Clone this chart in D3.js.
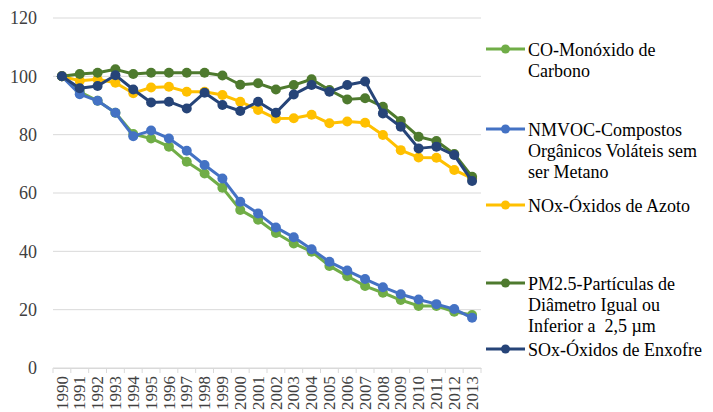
<!DOCTYPE html>
<html>
<head>
<meta charset="utf-8">
<script src="https://cdn.jsdelivr.net/npm/d3@7"></script>
<style>
  body { margin: 0; background: #fff; }
  svg { display: block; }
  svg text { font-family: "Liberation Serif", "Times New Roman", "DejaVu Serif", serif; white-space: pre; }
</style>
</head>
<body>
<div id="chart"></div>
<script>
// chart data
var years = ["1990","1991","1992","1993","1994","1995","1996","1997","1998","1999","2000","2001",
             "2002","2003","2004","2005","2006","2007","2008","2009","2010","2011","2012","2013"];
var yTicks = [0, 20, 40, 60, 80, 100, 120];

var co    = [100, 94.7, 91.6, 87.5, 80.2, 78.7, 75.9, 70.7, 66.7, 61.8, 54.2, 50.8,
             46.3, 42.7, 39.9, 35.0, 31.5, 28.1, 25.8, 23.3, 21.3, 21.3, 19.3, 18.2];
var nmvoc = [100, 93.9, 91.6, 87.5, 79.5, 81.4, 78.7, 74.5, 69.6, 65.0, 57.0, 53.0,
             48.2, 44.8, 40.7, 36.4, 33.4, 30.5, 27.7, 25.3, 23.5, 21.9, 20.2, 17.2];
var nox   = [100, 98.5, 99.0, 97.8, 94.2, 96.2, 96.4, 94.7, 94.7, 93.6, 91.3, 88.5,
             85.5, 85.6, 86.8, 83.9, 84.5, 84.1, 79.9, 74.7, 72.2, 72.1, 67.9, 65.0];
var pm25  = [100, 100.8, 101.2, 102.4, 100.8, 101.2, 101.2, 101.2, 101.2, 100.3, 97.1, 97.6,
             95.5, 97.0, 99.0, 95.3, 92.1, 92.5, 89.6, 84.7, 79.3, 77.8, 73.4, 65.6];
var sox   = [100, 95.9, 96.7, 100.4, 95.5, 91.0, 91.3, 89.0, 94.4, 90.2, 88.1, 91.3,
             87.5, 93.8, 97.0, 94.7, 97.0, 98.2, 87.3, 82.7, 75.3, 75.9, 73.0, 64.1];

var seriesNames = [
  ["CO-Monóxido de", "Carbono"],
  ["NMVOC-Compostos", "Orgânicos Voláteis sem", "ser Metano"],
  ["NOx-Óxidos de Azoto"],
  ["PM2.5-Partículas de", "Diâmetro Igual ou", "Inferior a  2,5 µm"],
  ["SOx-Óxidos de Enxofre"]
];
var seriesValues = [co, nmvoc, nox, pm25, sox];
var seriesColors = ["#70AD47", "#4472C4", "#FFC000", "#4E7A2E", "#264478"];

// svg area
var svgWidth = 713;
var svgHeight = 412;

var margin = { top: 18, right: 232, bottom: 44, left: 53 };
var width = svgWidth - margin.left - margin.right;
var height = svgHeight - margin.top - margin.bottom;

var svg = d3.select("#chart")
    .append("svg")
    .attr("width", svgWidth)
    .attr("height", svgHeight);

var chartGroup = svg.append("g").attr("transform", `translate(${margin.left}, ${margin.top})`);

// scales
var xBand = d3.scaleBand().domain(years).range([0, width]);
var yLinearScale = d3.scaleLinear().domain([0, 120]).range([height, 0]);

// gridlines
chartGroup.selectAll(".grid")
    .data(yTicks)
    .enter()
    .append("line")
    .attr("x1", 0)
    .attr("x2", width)
    .attr("y1", d => yLinearScale(d))
    .attr("y2", d => yLinearScale(d))
    .attr("stroke", "#d9d9d9")
    .attr("stroke-width", 1);

// y axis labels
var leftAxis = d3.axisLeft(yLinearScale).tickValues(yTicks).tickSize(0).tickPadding(16);
var yAxisG = chartGroup.append("g").call(leftAxis).attr("font-family", null);
yAxisG.select(".domain").remove();
yAxisG.selectAll("text")
    .attr("font-size", 18)
    .attr("fill", "#404040");

// x axis with category tick marks at boundaries
var bottomAxis = d3.axisBottom(xBand).tickSize(0).tickPadding(0);
var xAxisG = chartGroup.append("g")
    .attr("transform", `translate(0, ${height})`)
    .call(bottomAxis)
    .attr("font-family", null);
xAxisG.select(".domain").attr("stroke", "#d9d9d9");
xAxisG.selectAll("text")
    .attr("font-size", 17)
    .attr("fill", "#404040")
    .attr("text-anchor", "end")
    .attr("transform", "rotate(-90)")
    .attr("x", -8)
    .attr("y", 0)
    .attr("dy", "0.33em");

var bounds = years.map(d => xBand(d)).concat([width]);
chartGroup.selectAll(".catTick")
    .data(bounds)
    .enter()
    .append("line")
    .attr("x1", d => d)
    .attr("x2", d => d)
    .attr("y1", height)
    .attr("y2", height + 5)
    .attr("stroke", "#d9d9d9");

// lines and markers
var line = d3.line()
    .x((d, i) => xBand(years[i]) + xBand.bandwidth() / 2)
    .y(d => yLinearScale(d));

seriesValues.forEach(function(vals, s) {
    chartGroup.append("path")
        .datum(vals)
        .attr("fill", "none")
        .attr("stroke", seriesColors[s])
        .attr("stroke-width", 3)
        .attr("stroke-linejoin", "round")
        .attr("d", line);
    chartGroup.selectAll(".pt" + s)
        .data(vals)
        .enter()
        .append("circle")
        .attr("cx", (d, i) => xBand(years[i]) + xBand.bandwidth() / 2)
        .attr("cy", d => yLinearScale(d))
        .attr("r", 5)
        .attr("fill", seriesColors[s]);
});

// legend
var legendY = [49, 129, 205, 283, 349];
var legend = svg.append("g");
seriesNames.forEach(function(lines, s) {
    var g = legend.append("g").attr("transform", `translate(486, ${legendY[s]})`);
    g.append("line")
        .attr("x1", 0).attr("x2", 39)
        .attr("y1", 0).attr("y2", 0)
        .attr("stroke", seriesColors[s])
        .attr("stroke-width", 3);
    g.append("circle")
        .attr("cx", 19.5).attr("cy", 0).attr("r", 4.5)
        .attr("fill", seriesColors[s]);
    var t = g.append("text")
        .attr("x", 42)
        .attr("y", 7)
        .attr("font-size", 18)
        .attr("fill", "#000");
    lines.forEach(function(l, k) {
        t.append("tspan").attr("x", 42).attr("dy", k === 0 ? 0 : 21).text(l);
    });
});
</script>
</body>
</html>
